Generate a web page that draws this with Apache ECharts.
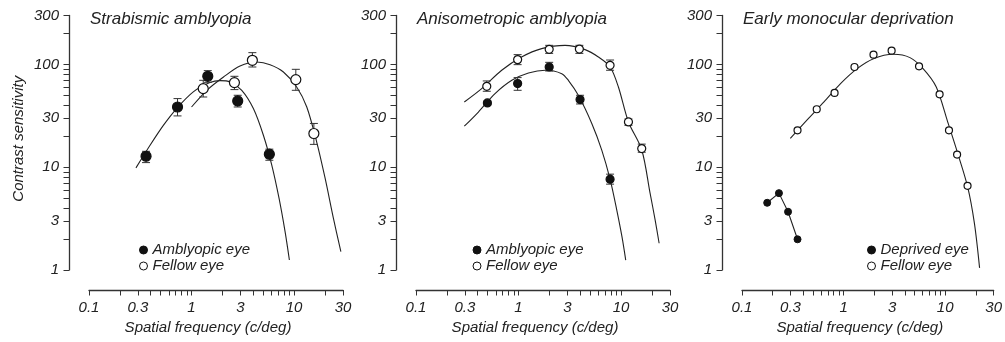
<!DOCTYPE html>
<html>
<head>
<meta charset="utf-8">
<script src="https://cdn.jsdelivr.net/npm/echarts@6/dist/echarts.min.js"></script>
<style>html,body{margin:0;padding:0;background:#fff}</style>
</head>
<body>
<div id="main" style="width:1005px;height:342px;"></div>
<script>
// axis ticks
var xTickLabels = [0.1, 0.3, 1, 3, 10, 30];
var xMinorTicks = [0.2, 0.4, 0.5, 0.6, 0.7, 0.8, 0.9, 2, 4, 5, 6, 7, 8, 9, 20];
var yTickLabels = [1, 3, 10, 30, 100, 300];
var yMinorTicks = [2, 4, 5, 6, 7, 8, 9, 20, 40, 50, 60, 70, 80, 90, 200];

var panelTitles = ['Strabismic amblyopia', 'Anisometropic amblyopia', 'Early monocular deprivation'];

// strabismic amblyopia
var strabAmbFreq = [0.36, 0.73, 1.44, 2.82, 5.74];
var strabAmbCS   = [12.8, 38.6, 76.8, 44.2, 13.4];
var strabAmbLow  = [11.1, 31.6, 67.1, 38.6, 11.7];
var strabAmbHigh = [14.3, 46.6, 87.2, 50.2, 15.0];
var strabFelFreq = [1.30, 2.62, 3.92, 10.4, 15.6];
var strabFelCS   = [58.3, 66.7, 109.9, 71.3, 21.3];
var strabFelLow  = [48.3, 57.0, 94.6, 56.1, 16.7];
var strabFelHigh = [70.2, 76.8, 130.5, 89.8, 26.7];
var strabAmbFitF  = [0.287, 0.394, 0.531, 0.716, 1.04, 1.51, 1.90, 2.38, 3.09, 4.01, 5.02, 6.06, 7.14, 8.17, 9.0];
var strabAmbFitCS = [9.87, 16.4, 25.6, 37.3, 54.1, 66.7, 69.7, 67.6, 56.1, 37.3, 20.5, 10.5, 4.97, 2.36, 1.25];
var strabFelFitF  = [1.0, 1.41, 2.05, 2.97, 4.33, 5.83, 7.87, 10.6, 13.3, 16.6, 20.1, 24.2, 28.6];
var strabFelFitCS = [38.6, 56.1, 75.6, 96.7, 105.7, 99.7, 84.6, 60.4, 38.6, 17.7, 7.78, 3.18, 1.51];

// anisometropic amblyopia
var anisoAmbFreq = [0.497, 0.98, 1.99, 3.98, 7.81];
var anisoAmbCS   = [42.3, 65.2, 94.6, 45.6, 7.66];
var anisoAmbLow  = [40.4, 56.1, 86.5, 41.3, 6.85];
var anisoAmbHigh = [44.2, 74.6, 105, 50.2, 8.57];
var anisoFelFreq = [0.49, 0.98, 1.99, 3.92, 7.81, 11.8, 15.9];
var anisoFelCS   = [61.4, 111.6, 140.5, 141.5, 98.2, 27.6, 15.2];
var anisoFelLow  = [54.9, 99.7, 128.4, 128.4, 87.9, 25.6, 14.0];
var anisoFelHigh = [69.2, 124.8, 153.7, 153.7, 110.6, 29.5, 16.8];
var anisoAmbFitF  = [0.296, 0.406, 0.59, 0.86, 1.25, 1.82, 2.64, 3.06, 3.83, 5.18, 6.48, 7.81, 9.08, 10.2, 11.1];
var anisoAmbFitCS = [25.1, 34.5, 52.1, 70.2, 82.6, 87.9, 81.5, 70.2, 50.2, 26.7, 14.7, 7.66, 3.83, 2.11, 1.25];
var anisoFelFitF  = [0.296, 0.437, 0.685, 1.07, 1.68, 2.84, 4.46, 6.01, 7.81, 9.42, 11.8, 15.9, 19.2, 21.5, 23.5];
var anisoFelFitCS = [43.2, 58.3, 87.9, 118.3, 142.7, 153.7, 139.6, 118.3, 95.0, 60.4, 27.6, 14.8, 5.56, 3.06, 1.82];

// early monocular deprivation
var earlyDepFreq = [0.177, 0.231, 0.284, 0.352];
var earlyDepCS   = [4.51, 5.6, 3.69, 1.99];
var earlyFelFreq = [0.352, 0.544, 0.815, 1.28, 1.97, 2.97, 5.53, 8.81, 10.9, 13.1, 16.6];
var earlyFelCS   = [22.9, 36.7, 52.9, 94.6, 124.8, 136.5, 96, 51.3, 22.9, 13.3, 6.59];
var earlyFelFitF  = [0.299, 0.44, 0.641, 0.933, 1.36, 1.97, 3.09, 4.5, 6.06, 8.17, 10.6, 13.3, 16.6, 19.4, 21.8];
var earlyFelFitCS = [19.1, 29.1, 43.2, 65.2, 91.2, 114, 125.7, 116.7, 91.2, 60.4, 27.5, 13.6, 6.5, 2.84, 1.05];

var FONT = '"Liberation Sans", Arial, Helvetica, sans-serif';
var INK = '#222';

function pairs(xs, ys) {
    var out = [];
    for (var i = 0; i < xs.length; i++) out.push([xs[i], ys[i]]);
    return out;
}
function triples(xs, lo, hi) {
    var out = [];
    for (var i = 0; i < xs.length; i++) out.push([xs[i], lo[i], hi[i]]);
    return out;
}
function allTicks(major, minor) {
    return major.concat(minor).sort(function (a, b) { return a - b; });
}
function fmt(v) { return String(+(+v).toPrecision(3)); }

// vertical error bar with caps
function renderErr(params, api) {
    var x = api.value(0);
    var top = api.coord([x, api.value(2)]);
    var bot = api.coord([x, api.value(1)]);
    var w = 4;
    var st = { stroke: '#333', lineWidth: 1 };
    return {
        type: 'group',
        children: [
            { type: 'line', shape: { x1: top[0], y1: top[1], x2: bot[0], y2: bot[1] }, style: st },
            { type: 'line', shape: { x1: top[0] - w, y1: top[1], x2: top[0] + w, y2: top[1] }, style: st },
            { type: 'line', shape: { x1: bot[0] - w, y1: bot[1], x2: bot[0] + w, y2: bot[1] }, style: st }
        ]
    };
}

var panelLeft = [89, 416, 742];
var grids = [], xAxes = [], yAxes = [], titles = [], legends = [], series = [];

panelLeft.forEach(function (left, i) {
    grids.push({ left: left, top: 15.5, width: 254, height: 254.5 });
    titles.push({
        text: panelTitles[i], left: left + 1, top: 11, padding: 0,
        textStyle: { fontFamily: FONT, fontStyle: 'italic', fontWeight: 'normal', fontSize: 17, color: INK }
    });
    var xAxis = {
        type: 'log', logBase: 10, min: 0.1, max: 30, gridIndex: i, offset: 20, position: 'bottom',
        name: 'Spatial frequency (c/deg)', nameLocation: 'middle', nameGap: 29,
        nameTextStyle: { fontFamily: FONT, fontStyle: 'italic', fontSize: 15, color: INK, padding: [0, 16, 0, 0] },
        axisLine: { lineStyle: { color: '#333', width: 1.3 } },
        axisTick: { show: true, customValues: allTicks(xTickLabels, xMinorTicks), length: 5.5, lineStyle: { color: '#333', width: 1 } },
        axisLabel: { customValues: xTickLabels, formatter: fmt, margin: 10, fontFamily: FONT, fontStyle: 'italic', fontSize: 15, color: INK },
        splitLine: { show: false }
    };
    var yAxis = {
        type: 'log', logBase: 10, min: 1, max: 300, gridIndex: i, offset: 20, position: 'left',
        axisLine: { lineStyle: { color: '#333', width: 1.3 } },
        axisTick: { show: true, customValues: allTicks(yTickLabels, yMinorTicks), length: 5.5, lineStyle: { color: '#333', width: 1 } },
        axisLabel: { customValues: yTickLabels, formatter: fmt, margin: 10, fontFamily: FONT, fontStyle: 'italic', fontSize: 15, color: INK },
        splitLine: { show: false }
    };
    if (i === 0) {
        yAxis.name = 'Contrast sensitivity';
        yAxis.nameLocation = 'middle';
        yAxis.nameGap = 43;
        yAxis.nameTextStyle = { fontFamily: FONT, fontStyle: 'italic', fontSize: 15, color: INK, padding: [0, 0, 0, 8] };
    }
    xAxes.push(xAxis);
    yAxes.push(yAxis);
});

function ax(i) { return { xAxisIndex: i, yAxisIndex: i }; }
function fit(i, name, xs, ys) {
    return Object.assign({
        type: 'line', name: name, data: pairs(xs, ys), smooth: 0.3, showSymbol: false, silent: true,
        lineStyle: { color: INK, width: 1.1 }, z: 2
    }, ax(i));
}
function errs(i, name, xs, lo, hi) {
    return Object.assign({
        type: 'custom', name: name, data: triples(xs, lo, hi), renderItem: renderErr, silent: true, z: 3,
        encode: { x: 0, y: [1, 2] }
    }, ax(i));
}
function pts(i, name, xs, ys, filled, size) {
    return Object.assign({
        type: 'scatter', name: name, data: pairs(xs, ys), symbol: 'circle', symbolSize: size, z: 4,
        itemStyle: { color: filled ? '#111' : '#fff', borderColor: '#111', borderWidth: 1.2, opacity: 1 }
    }, ax(i));
}

// panel 1
series.push(fit(0, 'amb fit', strabAmbFitF, strabAmbFitCS));
series.push(fit(0, 'fel fit', strabFelFitF, strabFelFitCS));
series.push(errs(0, 'amb err', strabAmbFreq, strabAmbLow, strabAmbHigh));
series.push(errs(0, 'fel err', strabFelFreq, strabFelLow, strabFelHigh));
series.push(pts(0, 'Amblyopic eye', strabAmbFreq, strabAmbCS, true, 10));
series.push(pts(0, 'Fellow eye', strabFelFreq, strabFelCS, false, 10));
// panel 2
series.push(fit(1, 'amb fit', anisoAmbFitF, anisoAmbFitCS));
series.push(fit(1, 'fel fit', anisoFelFitF, anisoFelFitCS));
series.push(errs(1, 'amb err', anisoAmbFreq, anisoAmbLow, anisoAmbHigh));
series.push(errs(1, 'fel err', anisoFelFreq, anisoFelLow, anisoFelHigh));
series.push(pts(1, 'Amblyopic eye', anisoAmbFreq, anisoAmbCS, true, 8));
series.push(pts(1, 'Fellow eye', anisoFelFreq, anisoFelCS, false, 8));
// panel 3
series.push(fit(2, 'fel fit', earlyFelFitF, earlyFelFitCS));
series.push(Object.assign({
    type: 'line', name: 'Deprived eye', data: pairs(earlyDepFreq, earlyDepCS), symbol: 'circle', symbolSize: 7,
    lineStyle: { color: INK, width: 1.1 }, itemStyle: { color: '#111', borderColor: '#111' }, z: 4
}, ax(2)));
series.push(pts(2, 'Fellow eye', earlyFelFreq, earlyFelCS, false, 7));

var legendLeft = [139, 472.5, 867];
var legendNames = [['Amblyopic eye', 'Fellow eye'], ['Amblyopic eye', 'Fellow eye'], ['Deprived eye', 'Fellow eye']];
legendLeft.forEach(function (left, i) {
    legends.push({
        left: left, top: 242, orient: 'vertical', itemWidth: 8, itemHeight: 8, itemGap: 0, padding: 0,
        selectedMode: false,
        textStyle: { fontFamily: FONT, fontStyle: 'italic', fontSize: 15, color: INK, lineHeight: 16 },
        data: [
            { name: legendNames[i][0], icon: 'circle', itemStyle: { color: '#111', borderColor: '#111', borderWidth: 1 } },
            { name: legendNames[i][1], icon: 'circle', itemStyle: { color: '#fff', borderColor: '#111', borderWidth: 1 } }
        ]
    });
});

var chart = echarts.init(document.getElementById('main'));
chart.setOption({
    animation: false,
    backgroundColor: '#fff',
    title: titles,
    legend: legends,
    grid: grids,
    xAxis: xAxes,
    yAxis: yAxes,
    series: series
});
</script>
</body>
</html>
